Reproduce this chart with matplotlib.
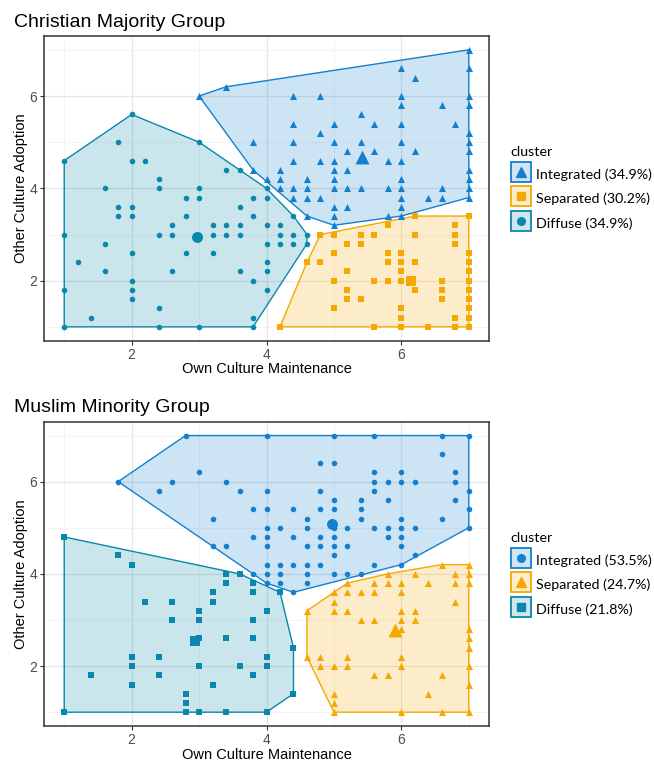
import matplotlib
matplotlib.use('Agg')
import matplotlib.pyplot as plt
from matplotlib.patches import Polygon
from matplotlib.lines import Line2D
from matplotlib.ticker import MultipleLocator

# colours of the three clusters
INT = '#1380CF'
SEP = '#F5A800'
DIF = '#0A87AD'

# ---------------- Christian majority group ----------------
top_integrated = [
    (7.0, 7.0), (6.0, 6.6), (7.0, 6.6), (6.2, 6.4), (3.4, 6.2),
    (3.0, 6.0), (4.4, 6.0), (4.8, 6.0), (6.0, 6.0), (7.0, 6.0),
    (6.0, 5.8), (6.6, 5.8), (7.0, 5.8), (5.4, 5.6),
    (4.4, 5.4), (5.0, 5.4), (5.6, 5.4), (6.0, 5.4), (6.8, 5.4),
    (4.8, 5.2), (7.0, 5.2),
    (3.8, 5.0), (4.4, 5.0), (5.0, 5.0), (5.4, 5.0), (6.0, 5.0), (7.0, 5.0),
    (5.2, 4.8), (5.6, 4.8), (6.2, 4.8), (7.0, 4.8),
    (4.4, 4.6), (4.8, 4.6), (5.0, 4.6), (5.8, 4.6), (6.0, 4.6),
    (3.8, 4.4), (4.2, 4.4), (5.0, 4.4), (5.2, 4.4), (7.0, 4.4),
    (4.0, 4.2), (4.2, 4.2), (4.6, 4.2), (5.0, 4.2), (6.0, 4.2), (7.0, 4.2),
    (4.2, 4.0), (4.4, 4.0), (4.6, 4.0), (5.0, 4.0), (5.2, 4.0), (5.4, 4.0),
    (5.8, 4.0), (6.0, 4.0), (6.6, 4.0), (7.0, 4.0),
    (4.4, 3.8), (4.6, 3.8), (4.8, 3.8), (6.0, 3.8), (6.4, 3.8), (6.6, 3.8), (7.0, 3.8),
    (5.0, 3.6), (5.2, 3.6), (6.0, 3.6),
    (4.6, 3.4), (5.0, 3.4), (5.8, 3.4), (6.0, 3.4), (5.0, 3.2),
]
top_separated = [
    (6.2, 3.4), (7.0, 3.4), (5.8, 3.2), (6.8, 3.2),
    (4.8, 3.0), (5.0, 3.0), (5.4, 3.0), (5.6, 3.0), (6.2, 3.0), (6.8, 3.0),
    (5.2, 2.8), (5.4, 2.8), (6.8, 2.8),
    (5.0, 2.6), (5.8, 2.6), (6.0, 2.6), (7.0, 2.6),
    (4.6, 2.4), (4.8, 2.4), (5.8, 2.4), (6.0, 2.4), (6.2, 2.4), (7.0, 2.4),
    (5.2, 2.2), (6.0, 2.2), (7.0, 2.2),
    (5.0, 2.0), (5.6, 2.0), (5.8, 2.0), (6.0, 2.0), (6.6, 2.0), (7.0, 2.0),
    (5.2, 1.8), (6.2, 1.8), (6.6, 1.8), (7.0, 1.8),
    (5.2, 1.6), (5.4, 1.6), (6.6, 1.6), (7.0, 1.6),
    (5.0, 1.4), (6.0, 1.4), (7.0, 1.4),
    (6.0, 1.2), (6.8, 1.2), (7.0, 1.2),
    (4.2, 1.0), (5.6, 1.0), (6.0, 1.0), (6.4, 1.0), (6.8, 1.0), (7.0, 1.0),
]
top_diffuse = [
    (2.0, 5.6), (1.8, 5.0), (3.0, 5.0),
    (1.0, 4.6), (2.0, 4.6), (2.2, 4.6), (3.4, 4.4), (3.6, 4.4), (2.4, 4.2),
    (1.6, 4.0), (2.4, 4.0), (3.0, 4.0), (4.0, 4.0),
    (2.8, 3.8), (3.0, 3.8), (3.8, 3.8), (4.0, 3.8),
    (1.8, 3.6), (2.0, 3.6), (3.6, 3.6),
    (1.8, 3.4), (2.0, 3.4), (2.8, 3.4), (3.8, 3.4), (4.4, 3.4),
    (2.6, 3.2), (3.2, 3.2), (3.4, 3.2), (3.6, 3.2), (4.0, 3.2), (4.2, 3.2),
    (1.0, 3.0), (2.4, 3.0), (2.6, 3.0), (3.0, 3.0), (3.2, 3.0), (3.4, 3.0),
    (3.6, 3.0), (4.2, 3.0), (4.4, 3.0), (4.6, 3.0),
    (1.6, 2.8), (4.0, 2.8), (4.2, 2.8), (4.4, 2.8), (4.6, 2.8),
    (2.0, 2.6), (2.8, 2.6), (3.2, 2.6), (1.2, 2.4), (4.0, 2.4),
    (1.6, 2.2), (2.6, 2.2), (3.6, 2.2), (4.0, 2.2),
    (2.0, 2.0), (3.8, 2.0), (1.0, 1.8), (2.0, 1.8), (4.0, 1.8),
    (2.0, 1.6), (2.4, 1.4), (1.4, 1.2), (3.8, 1.2),
    (1.0, 1.0), (2.4, 1.0), (3.0, 1.0), (3.8, 1.0),
]
top_centres = [(5.42, 4.67), (6.15, 2.0), (2.97, 2.94)]
top_labels = ['Integrated (34.9%)', 'Separated (30.2%)', 'Diffuse (34.9%)']

# ---------------- Muslim minority group ----------------
bot_integrated = [
    (2.8, 7.0), (4.0, 7.0), (5.0, 7.0), (5.6, 7.0), (6.6, 7.0), (7.0, 7.0),
    (6.6, 6.6), (4.8, 6.4), (5.0, 6.4),
    (3.0, 6.2), (5.6, 6.2), (6.0, 6.2), (6.8, 6.2),
    (1.8, 6.0), (2.6, 6.0), (3.4, 6.0), (5.6, 6.0), (5.8, 6.0), (6.0, 6.0), (6.2, 6.0), (6.8, 6.0),
    (2.4, 5.8), (3.6, 5.8), (4.0, 5.8), (4.8, 5.8), (5.6, 5.8), (7.0, 5.8),
    (5.0, 5.6), (5.4, 5.6), (5.8, 5.6), (6.8, 5.6),
    (3.8, 5.4), (4.0, 5.4), (4.4, 5.4), (4.8, 5.4), (5.0, 5.4), (5.4, 5.4), (7.0, 5.4),
    (3.2, 5.2), (4.6, 5.2), (5.4, 5.2), (6.0, 5.2), (6.6, 5.2),
    (4.0, 5.0), (4.2, 5.0), (4.6, 5.0), (5.0, 5.0), (5.2, 5.0), (5.6, 5.0),
    (5.8, 5.0), (6.0, 5.0), (6.2, 5.0), (7.0, 5.0),
    (3.8, 4.8), (4.0, 4.8), (4.4, 4.8), (4.8, 4.8), (5.0, 4.8), (5.8, 4.8), (6.0, 4.8),
    (3.2, 4.6), (3.4, 4.6), (4.0, 4.6), (4.6, 4.6), (4.8, 4.6), (5.0, 4.6), (5.2, 4.6), (6.0, 4.6),
    (5.0, 4.4), (6.2, 4.4),
    (4.0, 4.2), (4.2, 4.2), (4.4, 4.2), (4.6, 4.2), (4.8, 4.2), (5.6, 4.2), (6.0, 4.2),
    (3.8, 4.0), (4.0, 4.0), (4.2, 4.0), (4.6, 4.0), (5.0, 4.0), (5.2, 4.0), (5.4, 4.0),
    (4.0, 3.8), (4.2, 3.8), (4.6, 3.8), (4.4, 3.6),
]
bot_separated = [
    (6.6, 4.2), (7.0, 4.2), (5.8, 4.0), (6.2, 4.0), (6.8, 4.0), (7.0, 4.0),
    (5.2, 3.8), (5.6, 3.8), (5.8, 3.8), (6.0, 3.8), (6.4, 3.8), (6.8, 3.8), (7.0, 3.8),
    (5.0, 3.6), (5.2, 3.6), (5.4, 3.6), (5.6, 3.6), (6.0, 3.6),
    (5.0, 3.4), (6.8, 3.4),
    (4.6, 3.2), (5.0, 3.2), (5.2, 3.2), (6.0, 3.2), (6.2, 3.2),
    (5.4, 3.0), (5.6, 3.0), (6.0, 3.0), (6.2, 3.0),
    (6.0, 2.8), (7.0, 2.8), (7.0, 2.6), (7.0, 2.4),
    (4.6, 2.2), (4.8, 2.2), (5.2, 2.2), (6.0, 2.2),
    (4.8, 2.0), (5.0, 2.0), (5.2, 2.0), (6.0, 2.0), (7.0, 2.0),
    (5.6, 1.8), (5.8, 1.8), (6.6, 1.8), (7.0, 1.6),
    (5.0, 1.4), (6.4, 1.4), (5.0, 1.2),
    (5.0, 1.0), (6.0, 1.0), (6.6, 1.0), (7.0, 1.0),
]
bot_diffuse = [
    (1.0, 4.8), (1.8, 4.4), (2.0, 4.2), (3.4, 4.0), (3.6, 4.0),
    (3.4, 3.8), (3.8, 3.8), (3.2, 3.6), (3.8, 3.6), (4.2, 3.6),
    (2.2, 3.4), (2.6, 3.4), (3.2, 3.4), (3.0, 3.2), (4.0, 3.2),
    (2.6, 3.0), (3.0, 3.0), (3.8, 3.0),
    (3.0, 2.6), (3.4, 2.6), (3.8, 2.6), (4.4, 2.4),
    (2.0, 2.2), (2.4, 2.2), (4.0, 2.2),
    (2.0, 2.0), (3.0, 2.0), (3.6, 2.0), (4.0, 2.0),
    (1.4, 1.8), (2.4, 1.8), (3.8, 1.8), (2.0, 1.6), (3.2, 1.6),
    (2.8, 1.4), (4.4, 1.4), (2.8, 1.2),
    (1.0, 1.0), (2.8, 1.0), (3.0, 1.0), (3.4, 1.0), (4.0, 1.0),
]
bot_centres = [(4.97, 5.09), (5.91, 2.78), (2.94, 2.54)]
bot_labels = ['Integrated (53.5%)', 'Separated (24.7%)', 'Diffuse (21.8%)']


def hull(pts):
    pts = sorted(set(pts))

    def cross(o, a, b):
        return (a[0] - o[0]) * (b[1] - o[1]) - (a[1] - o[1]) * (b[0] - o[0])

    lower = []
    for p in pts:
        while len(lower) >= 2 and cross(lower[-2], lower[-1], p) <= 0:
            lower.pop()
        lower.append(p)
    upper = []
    for p in reversed(pts):
        while len(upper) >= 2 and cross(upper[-2], upper[-1], p) <= 0:
            upper.pop()
        upper.append(p)
    return lower[:-1] + upper[:-1]


SIZES = {'^': 26, 'o': 16, 's': 14}
BIG = {'^': 100, 'o': 62, 's': 58}


def draw_panel(ax, groups, centres, markers):
    colors = [INT, SEP, DIF]
    for pts, c, m, cen in zip(groups, colors, markers, centres):
        poly = Polygon(hull(pts), closed=True, facecolor=c, alpha=0.21,
                       edgecolor='none', zorder=1)
        ax.add_patch(poly)
        edge = Polygon(hull(pts), closed=True, facecolor='none',
                       edgecolor=c, lw=1.0, zorder=2)
        ax.add_patch(edge)
        xs = [p[0] for p in pts]
        ys = [p[1] for p in pts]
        ax.scatter(xs, ys, marker=m, s=SIZES[m], color=c, lw=0, zorder=3)
        ax.scatter([cen[0]], [cen[1]], marker=m, s=BIG[m], color=c, lw=0, zorder=4)

    ax.set_xlim(0.7, 7.3)
    ax.set_ylim(0.7, 7.3)
    ax.xaxis.set_major_locator(MultipleLocator(2))
    ax.yaxis.set_major_locator(MultipleLocator(2))
    ax.xaxis.set_minor_locator(MultipleLocator(1))
    ax.yaxis.set_minor_locator(MultipleLocator(1))
    ax.grid(which='major', color='#E6E6E6', lw=0.9, zorder=0)
    ax.grid(which='minor', color='#F0F0F0', lw=0.5, zorder=0)
    ax.set_axisbelow(True)
    ax.tick_params(which='major', length=3, width=0.8, color='#333333',
                   labelsize=10, labelcolor='#4D4D4D', pad=2)
    ax.tick_params(which='minor', length=0)
    for s in ax.spines.values():
        s.set_color('#333333')
        s.set_linewidth(1.1)
    ax.set_xlabel('Own Culture Maintenance', fontsize=10.5, labelpad=0.5)
    ax.set_ylabel('Other Culture Adoption', fontsize=10.5, labelpad=1)


def add_legend(fig, labels, markers, top):
    colors = [INT, SEP, DIF]
    handles = []
    for c, m in zip(colors, markers):
        # key box drawn as a big square marker so both marks share one centre
        box = Line2D([], [], marker='s', ms=15, ls='', mew=1.3, mec=c,
                     mfc=matplotlib.colors.to_rgba(c, 0.2))
        mk = Line2D([], [], marker=m, color=c, ls='', ms=7 if m == '^' else 5.5)
        handles.append((box, mk))
    leg = fig.legend(handles, labels, loc='upper left',
                     bbox_to_anchor=(510 / 654, top), frameon=False,
                     title='cluster', alignment='left', fontsize=10.3,
                     title_fontsize=10.3, handlelength=1.6, handleheight=1.5,
                     labelspacing=0.5, handletextpad=0.25, borderpad=0,
                     borderaxespad=0)
    for t in leg.get_texts():
        t.set_family(['Lato', 'DejaVu Sans'])
    leg.get_title().set_family(['Lato', 'DejaVu Sans'])


plt.rcParams['font.family'] = ['Liberation Sans', 'DejaVu Sans']

fig = plt.figure(figsize=(6.54, 7.6), dpi=100)
ax1 = fig.add_axes([44 / 654, 1 - 340.7 / 760, 445 / 654, 304.7 / 760])
ax2 = fig.add_axes([44 / 654, 1 - 726 / 760, 445 / 654, 304.3 / 760])

draw_panel(ax1, [top_integrated, top_separated, top_diffuse], top_centres, ['^', 's', 'o'])
draw_panel(ax2, [bot_integrated, bot_separated, bot_diffuse], bot_centres, ['o', '^', 's'])

fig.text(14 / 654, 1 - 26.7 / 760, 'Christian Majority Group', fontsize=14, va='baseline')
fig.text(14 / 654, 1 - 412 / 760, 'Muslim Minority Group', fontsize=14, va='baseline')

add_legend(fig, top_labels, ['^', 's', 'o'], 1 - 146 / 760)
add_legend(fig, bot_labels, ['o', '^', 's'], 1 - 532 / 760)

fig.savefig('out.png', dpi=100)
